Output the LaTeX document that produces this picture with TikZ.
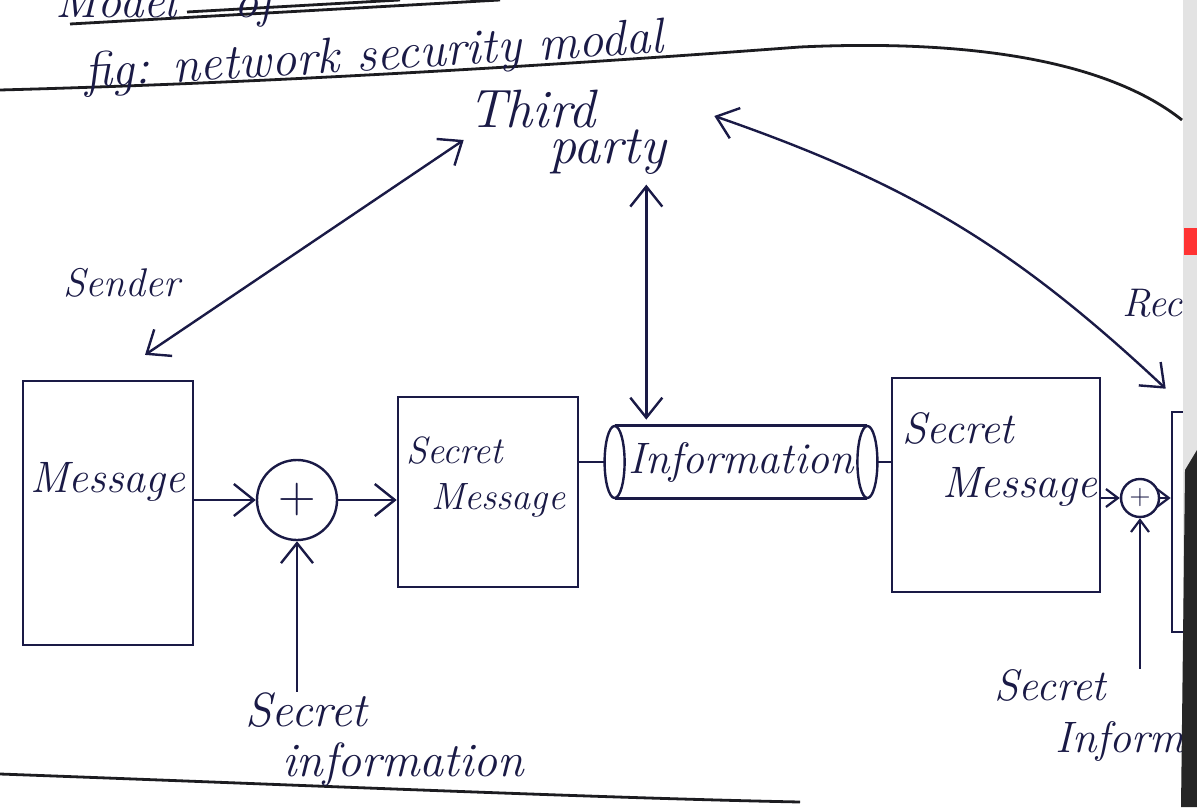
\documentclass[tikz,border=0pt]{standalone}
\usetikzlibrary{arrows.meta,calc}
\definecolor{ink}{RGB}{26,26,70}
\definecolor{ruling}{RGB}{28,28,32}
\begin{document}
\begin{tikzpicture}[x=0.5pt,y=-0.5pt,
  hand/.style={text=ink,font=\fontsize{24}{26}\selectfont\itshape,inner sep=0pt},
  box/.style={draw=ink,line width=1.3pt,rectangle,inner sep=0pt},
  wire/.style={draw=ink,line width=1.2pt},
  bigtip/.tip={Straight Barb[length=10pt,width=16pt,line width=1.2pt]},
  smalltip/.tip={Straight Barb[length=6pt,width=9pt,line width=1.1pt]},
  arr/.style={wire,-bigtip},
  sarr/.style={wire,-smalltip},
  dbl/.style={wire,bigtip-bigtip},
  adder/.style={draw=ink,circle,line width=1.2pt,inner sep=0pt,text=ink},
  paper/.style={draw=ruling,line width=1.4pt}]

\useasboundingbox (0,0) rectangle (1197,807);
\clip (0,0) rectangle (1197,807);
\fill[white] (0,0) rectangle (1197,807);

% ruled lines of the notebook page and the heading underlines
\draw[paper] (70,24) -- (500,0);
\draw[paper] (187,12) -- (400,0);
\draw[paper] (0,90) .. controls (300,82) and (600,62) .. (800,47)
             .. controls (950,40) and (1100,55) .. (1182,120);
\draw[paper] (0,774) .. controls (300,785) and (600,798) .. (800,802);

% headings
\node[hand,anchor=base west] (model) at (55,18) {Model\hspace{1.2em}of};
\node[hand,font=\fontsize{25}{27}\selectfont\itshape,anchor=base west,rotate=3.5] (title) at (85,88) {fig: network security modal};

% parties
\node[hand,font=\fontsize{27}{18}\selectfont\itshape,align=left] (tp) at (567,132) {Third\\\hspace{1.5em}party};
\node[hand,font=\fontsize{20}{22}\selectfont\itshape] (sender) at (122,283) {Sender};
\node[hand,font=\fontsize{20}{22}\selectfont\itshape,anchor=base west] (rcvlbl) at (1122,316) {Receiver};

% sender side
\node[box,minimum width=85pt,minimum height=132pt] (msg) at (108,513) {};
\node[hand,font=\fontsize{22}{24}\selectfont\itshape] (msgtxt) at (108,482) {Message};
\node[adder,minimum size=40pt,font=\fontsize{26}{26}\selectfont] (c1) at (297,500) {+};
\node[box,minimum width=90pt,minimum height=95pt] (sec1) at (488,492) {};
\node[hand,font=\fontsize{19}{23}\selectfont\itshape,align=left,anchor=north west] (sec1txt) at (406,436) {Secret\\\hspace{0.65em}Message};
\node[hand,anchor=base west] (si1a) at (245,726) {Secret};
\node[hand,anchor=base west] (si1b) at (282,776) {information};

% channel
\node[hand,font=\fontsize{22}{24}\selectfont\itshape,minimum width=126pt,minimum height=36pt] (info) at (741,462) {Information};
\draw[wire] (info.north west) -- (info.north east);
\draw[wire] (info.south west) -- (info.south east);
\draw[wire] (info.west) ellipse (5pt and 18pt);
\draw[wire] (info.east) ellipse (5pt and 18pt);

% receiver side
\node[box,minimum width=104pt,minimum height=107pt] (sec2) at (996,485) {};
\node[hand,font=\fontsize{22}{27}\selectfont\itshape,align=left,anchor=north west] (sec2txt) at (902,412) {Secret\\\hspace{0.9em}Message};
\node[adder,minimum size=19pt,font=\fontsize{14}{14}\selectfont] (c2) at (1140,498) {+};
\node[box,minimum width=44pt,minimum height=110pt] (rcv) at (1216,522) {};
\node[hand,font=\fontsize{22}{24}\selectfont\itshape,anchor=base west] (si2a) at (994,700) {Secret};
\node[hand,font=\fontsize{22}{24}\selectfont\itshape,anchor=base west] (si2b) at (1055,752) {Information};

% message flow
\draw[arr] (c1.west -| msg.east) -- (c1.west);
\draw[arr] (c1.east) -- (c1.east -| sec1.west);
\draw[arr] (c1.south |- si1a.north) -- (c1.south);
\draw[wire] (info.west -| sec1.east) -- ([xshift=-5pt]info.west);
\draw[wire] ([xshift=5pt]info.east) -- (info.east -| sec2.west);
\draw[sarr] (c2.west -| sec2.east) -- (c2.west);
\draw[sarr] (c2.east) -- (c2.east -| rcv.west);
\draw[sarr] (c2.south |- si2a.north) -- (c2.south);

% links with the third party
\coordinate (vb) at (tp.south east |- info.north);
\draw[dbl] ($(sender.south)+(23,57)$) -- ($(tp.west)+(-4,8)$);
\draw[dbl] ($(tp.south east)+(-20,10)$) -- ($(vb)+(-20,-6)$);
\draw[dbl] ($(tp.east)+(48,-16)$) to[bend left=12] ($(rcv.north west)+(-5,-22)$);

% edge of the page
\fill[gray!22] (1183,0) rectangle (1197,807);
\fill[red!80] (1184,228) rectangle (1197,255);
\fill[black!85] (1185,470) -- (1197,450) -- (1197,807) -- (1181,807) -- cycle;
\end{tikzpicture}
\end{document}
